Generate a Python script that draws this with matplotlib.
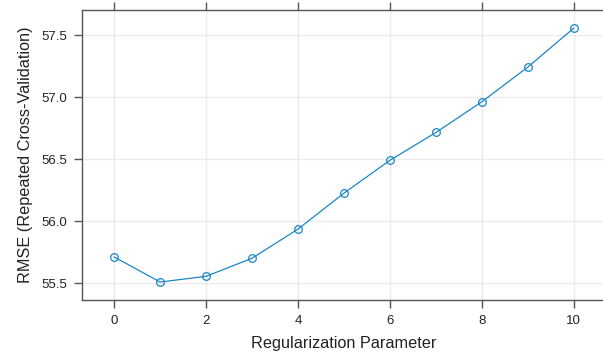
import numpy as np
import matplotlib
matplotlib.use('Agg')
import matplotlib.pyplot as plt

# 正则化参数与对应的交叉验证 RMSE
reg_param = [0, 1, 2, 3, 4, 5, 6, 7, 8, 9, 10]
rmse_cv = [55.71, 55.508, 55.554, 55.70, 55.935, 56.225, 56.49, 56.714, 56.962, 57.242, 57.556]

x_ticks = [0, 2, 4, 6, 8, 10]
y_ticks = [55.5, 56.0, 56.5, 57.0, 57.5]

plt.rcParams['font.family'] = ['Liberation Sans', 'DejaVu Sans']

fig = plt.figure(figsize=(6.03, 3.58), dpi=100)
ax = fig.add_axes([82 / 603, 1 - 300 / 358, (606 - 82) / 603, 290 / 358])

frame_col = '#555555'
line_col = '#1b86c8'

# 网格线
for xv in x_ticks:
    ax.axvline(xv, color='#ebebeb', lw=1.0, zorder=0)
for yv in y_ticks:
    ax.axhline(yv, color='#ebebeb', lw=1.0, zorder=0)

ax.plot(reg_param, rmse_cv, '-', color=line_col, lw=0.9, zorder=2)
ax.plot(reg_param, rmse_cv, 'o', mfc='none', mec=line_col, ms=5.5, mew=0.9, zorder=3)

ax.set_xlim(-0.7, 10.7)
ax.set_ylim(55.363, 57.702)
ax.set_xticks(x_ticks)
ax.set_yticks(y_ticks)
ax.set_yticklabels([f'{v:.1f}' for v in y_ticks])

for s in ax.spines.values():
    s.set_color(frame_col)
    s.set_linewidth(1.0)

ax.tick_params(axis='both', direction='out', length=6, width=1.0, color=frame_col,
               labelsize=9.5, labelcolor='#222222', pad=5)
ax.tick_params(axis='x', top=True, labeltop=False, length=6)
ax.tick_params(axis='y', right=False)

ax.set_xlabel('Regularization Parameter', fontsize=11.7, color='#222222', labelpad=6)
ax.set_ylabel('RMSE (Repeated Cross-Validation)', fontsize=11.7, color='#222222', labelpad=6)

fig.savefig('out.png', dpi=100)
